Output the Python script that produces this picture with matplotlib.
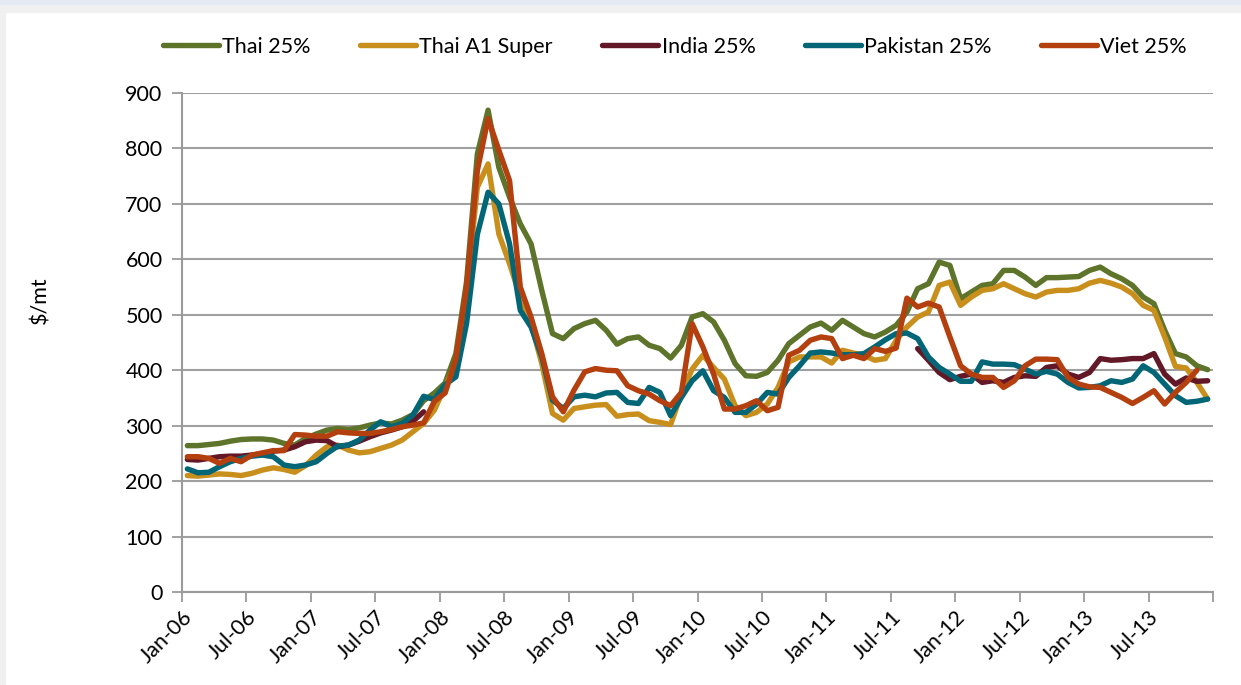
import matplotlib
matplotlib.use("Agg")
import matplotlib.pyplot as plt
import numpy as np

# ---- data (monthly, Jan-06 .. Dec-13) ----
tick_labels = ["Jan-06", "Jul-06", "Jan-07", "Jul-07", "Jan-08", "Jul-08", "Jan-09", "Jul-09",
               "Jan-10", "Jul-10", "Jan-11", "Jul-11", "Jan-12", "Jul-12", "Jan-13", "Jul-13", ""]

thai25 = [264, 264, 266, 268, 272, 275, 276, 276, 274, 268, 265, 277,
          285, 292, 295, 293, 296, 301, 305, 303, 310, 320, 345, 359,
          377, 430, 560, 790, 869, 766, 712, 664, 628, 544, 466, 457,
          475, 484, 490, 472, 447, 457, 460, 445, 439, 422, 445, 496,
          502, 487, 454, 412, 390, 389, 396, 418, 448, 463, 478, 485,
          472, 490, 478, 466, 460, 469, 481, 505, 547, 556, 595, 589,
          529, 541, 553, 556, 580, 580, 568, 553, 567, 567, 568, 569,
          580, 586, 574, 565, 553, 532, 520, 472, 430, 424, 408, 401]

thaiA1 = [210, 209, 211, 213, 212, 210, 214, 220, 224, 221, 216, 228,
          247, 262, 265, 256, 251, 253, 259, 265, 274, 289, 304, 328,
          371, 410, 540, 730, 772, 646, 592, 532, 484, 412, 322, 310,
          331, 334, 337, 338, 317, 320, 321, 309, 306, 302, 357, 402,
          427, 405, 384, 336, 318, 324, 339, 369, 415, 424, 424, 424,
          413, 436, 431, 427, 418, 421, 454, 478, 496, 505, 553, 559,
          517, 532, 544, 547, 556, 547, 538, 532, 541, 544, 544, 547,
          557, 562, 557, 550, 538, 517, 508, 460, 407, 404, 378, 348]

N = np.nan
india25 = [239, 238, 241, 244, 245, 245, 247, 249, 254, 256, 262, 271,
           274, 273, 262, 265, 272, 280, 287, 292, 298, 308, 325, N,
           N, N, N, N, N, N, N, N, N, N, N, N,
           N, N, N, N, N, N, N, N, N, N, N, N,
           N, N, N, N, N, N, N, N, N, N, N, N,
           N, N, N, N, N, N, N, N, 439, 418, 396, 383,
           389, 393, 378, 381, 378, 387, 390, 389, 405, 408, 393, 387,
           396, 421, 418, 419, 421, 421, 430, 393, 375, 386, 380, 381]

pakistan25 = [222, 215, 216, 226, 235, 241, 245, 247, 244, 229, 226, 229,
              235, 250, 263, 265, 274, 292, 307, 298, 304, 319, 353, 347,
              374, 388, 485, 645, 721, 700, 628, 508, 478, 424, 346, 331,
              352, 355, 352, 359, 360, 342, 340, 369, 360, 318, 351, 381,
              399, 363, 351, 324, 324, 339, 360, 357, 387, 408, 431, 433,
              431, 428, 428, 430, 442, 455, 466, 467, 457, 424, 405, 393,
              380, 380, 415, 411, 411, 410, 402, 393, 398, 393, 378, 368,
              369, 372, 381, 378, 384, 408, 396, 375, 354, 342, 344, 348]

viet25 = [244, 244, 241, 232, 241, 235, 247, 251, 255, 255, 284, 283,
          281, 281, 289, 287, 286, 286, 289, 293, 298, 301, 305, 344,
          359, 420, 550, 760, 854, 797, 742, 550, 496, 430, 352, 325,
          364, 397, 403, 400, 399, 372, 363, 357, 345, 336, 360, 484,
          442, 393, 330, 330, 336, 345, 327, 333, 427, 436, 454, 460,
          457, 421, 427, 421, 439, 434, 440, 530, 514, 521, 514, 460,
          408, 393, 387, 387, 369, 381, 408, 420, 420, 419, 387, 375,
          370, 369, 360, 351, 340, 351, 363, 339, 360, 378, 400]

series = [("Thai 25%", thai25, "#5E742B"),
          ("Thai A1 Super", thaiA1, "#C98F1C"),
          ("India 25%", india25, "#621827"),
          ("Pakistan 25%", pakistan25, "#036677"),
          ("Viet 25%", viet25, "#B43F0F")]

plt.rcParams['font.family'] = ['Lato', 'DejaVu Sans']

fig = plt.figure(figsize=(12.41, 6.85), dpi=100)
ax = fig.add_axes([182/1241, 1 - 592/685, (1213-182)/1241, (592-93)/685])

# decorative frame bands like the reference
fig.patches.append(plt.Rectangle((0, 1 - 5/685), 1, 5/685, transform=fig.transFigure,
                                 color="#E4EAF4", zorder=-10))
fig.patches.append(plt.Rectangle((0, 1 - 12/685), 1, 7/685, transform=fig.transFigure,
                                 color="#F0F0F0", zorder=-10))
fig.patches.append(plt.Rectangle((0, 0), 5/1241, 1 - 5/685, transform=fig.transFigure,
                                 color="#F0F0F0", zorder=-10))

for name, vals, col in series:
    v = np.array(vals, dtype=float)
    x = np.arange(len(v)) + 0.5
    ax.plot(x, v, color=col, lw=3.9, label=name, solid_capstyle="round",
            solid_joinstyle="round", zorder=3)

ax.set_xlim(0, 96)
ax.set_ylim(0, 900)
ax.set_yticks(np.arange(0, 901, 100))
ax.set_xticks(np.arange(0, 97, 6))
ax.set_xticklabels(tick_labels, rotation=45, ha="right", rotation_mode="anchor")
ax.tick_params(axis="y", labelsize=15.5, length=7, width=1.3, color="#9A9A9A", pad=7)
ax.tick_params(axis="x", labelsize=15.5, length=7, width=1.3, color="#9A9A9A", pad=4)
ax.grid(axis="y", color="#A0A0A0", lw=1.5, zorder=0)
for s in ["top", "right"]:
    ax.spines[s].set_visible(False)
for s in ["left", "bottom"]:
    ax.spines[s].set_color("#9A9A9A")
    ax.spines[s].set_linewidth(1.5)
ax.set_ylabel("$/mt", fontsize=15.5)
ax.yaxis.set_label_coords((50 - 182) / 1031, (592 - 300) / 499)

fig.legend(loc="center", bbox_to_anchor=(675/1241, 1 - 47/685), ncol=5, frameon=False,
           fontsize=15.5, handlelength=2.6, handletextpad=0.15, columnspacing=2.3)

fig.savefig("out.png", dpi=100)
